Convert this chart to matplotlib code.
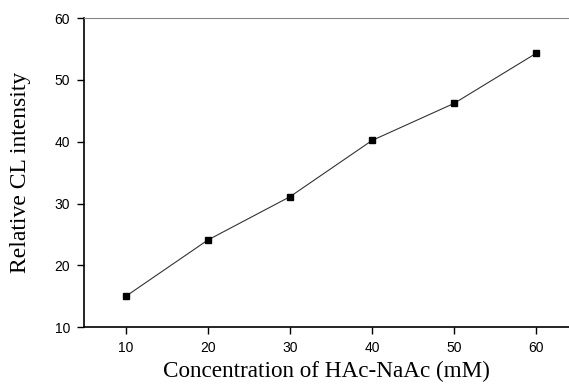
import matplotlib
matplotlib.use("Agg")
import matplotlib.pyplot as plt

# HAc-NaAc buffer concentration vs relative CL intensity
conc = [10, 20, 30, 40, 50, 60]
intensity = [15.0, 24.1, 31.1, 40.2, 46.2, 54.3]
xticks = [10, 20, 30, 40, 50, 60]
yticks = [10, 20, 30, 40, 50, 60]

fig = plt.figure(figsize=(5.69, 3.84), dpi=100)
ax = fig.add_axes([0.1476, 0.148, 0.8524, 0.805])

ax.plot(conc, intensity, color="#333333", linewidth=0.8,
        marker="s", markersize=5, markerfacecolor="black", markeredgecolor="black")

ax.set_xlim(4.9, 64)
ax.set_ylim(10, 60)
ax.set_xticks(xticks)
ax.set_yticks(yticks)

ax.spines["right"].set_visible(False)
ax.spines["top"].set_color("#888888")
ax.spines["top"].set_linewidth(0.8)
ax.spines["left"].set_linewidth(1.2)
ax.spines["bottom"].set_linewidth(1.2)

ax.tick_params(direction="out", length=5, width=1, labelsize=10, pad=5)
for lab in ax.get_xticklabels() + ax.get_yticklabels():
    lab.set_family("Liberation Sans")

ax.set_xlabel("Concentration of HAc-NaAc (mM)", family="Liberation Serif",
              fontsize=16.7, labelpad=4)
ax.set_ylabel("Relative CL intensity", family="Liberation Serif",
              fontsize=17, labelpad=17)

fig.savefig("out.png", dpi=100)
